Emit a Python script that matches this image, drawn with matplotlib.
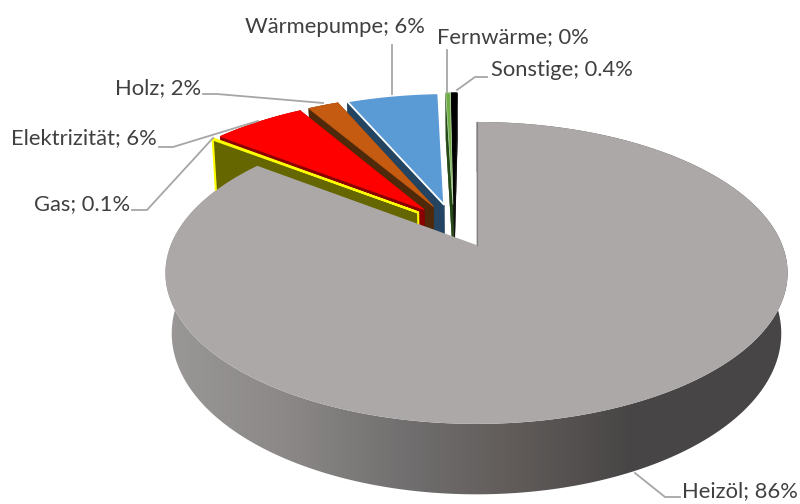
import numpy as np
import matplotlib
matplotlib.use('Agg')
import matplotlib.pyplot as plt
from matplotlib.colors import LinearSegmentedColormap
from matplotlib.patches import Polygon, PathPatch
from matplotlib.path import Path

# Heizung - Anteile, im Uhrzeigersinn ab Norden
names = ['Heizöl', 'Gas', 'Elektrizität', 'Holz', 'Wärmepumpe', 'Fernwärme', 'Sonstige']
values = [86, 0.1, 6, 2, 6, 0.3, 0.4]
shown = ['86%', '0.1%', '6%', '2%', '6%', '0%', '0.4%']

top_colors = ['#aca8a7', '#ffff00', '#ff0000', '#c55a11', '#5b9bd5', '#70ad47', '#000000']
side_colors = ['#6e6c6b', '#666600', '#8a0000', '#4f2a0a', '#234561', '#264a17', '#111111']
edge_colors = ['#aca8a7', '#ffff00', '#ff0000', '#c55a11', '#ffffff', '#c5e0b4', '#000000']
edge_widths = [0, 1.6, 0.5, 0.5, 1.3, 0.5, 0.3]

text_pos = [(682, 491), (34, 204), (11, 138), (115, 88), (245, 27), (437, 37), (491, 70)]
leaders = [
    [(635, 473), (665, 497), (680, 497)],
    [(132, 210), (147, 210), (213, 138)],
    [(159, 147), (173, 147), (258, 121)],
    [(203, 94), (217, 94), (323, 103)],
    [(392, 45), (392, 94)],
    [(447, 50), (447, 92)],
    [(487, 77), (475, 77), (457, 90)],
]

# Perspektive: obere und untere Flaeche der Scheibe
CX = 476.5
TOP = dict(y0=245, a=145.8, b=305.7, p=0.185)
BOT = dict(y0=305, a=156.0, b=300.0, p=0.176)
EXPLODE = 0.155
SHIFT = -0.007


def proj(u, v, k):
    d = 1 - k['p'] * v
    return CX + k['b'] * u / d, k['y0'] + k['a'] * v / d


fr = np.array(values) / sum(values) * 2 * np.pi
starts = np.concatenate([[0], np.cumsum(fr)[:-1]])
mids = starts + fr / 2
# Heizöl liegt im Ursprung, die anderen Stuecke sind relativ dazu verschoben
cu = -EXPLODE * np.sin(mids[0]) + SHIFT
cv = EXPLODE * np.cos(mids[0])


def slice_uv(i):
    au = cu + EXPLODE * np.sin(mids[i])
    av = cv - EXPLODE * np.cos(mids[i])
    if i == 0:
        au, av = 0.0, 0.0
    t = np.linspace(starts[i], starts[i] + fr[i], max(3, int(fr[i] * 80)))
    return au, av, au + np.sin(t), av - np.cos(t)


plt.rcParams['font.family'] = ['Lato', 'DejaVu Sans']
fig = plt.figure(figsize=(8, 5.04), dpi=100)
ax = fig.add_axes([0, 0, 1, 1])

# Seitenflaeche Heizöl mit Verlauf, Clip aus einzelnen Vierecken
au, av, us, vs = slice_uv(0)
tx, ty = proj(us, vs, TOP)
bx, by = proj(us, vs, BOT)
quads = []
for j in range(len(tx) - 1):
    quads.append(Path([(tx[j], ty[j]), (tx[j + 1], ty[j + 1]), (bx[j + 1], by[j + 1]), (bx[j], by[j]), (tx[j], ty[j])]))
cmap = LinearSegmentedColormap.from_list('side', [
    (0, '#9a9897'), (0.2, '#8a8786'), (0.4, '#6f6d6d'), (0.55, '#625d5b'), (0.75, '#474545'), (1, '#474545')])
im = ax.imshow(np.linspace(0, 1, 300)[None, :], extent=(165, 790, 505, 100), cmap=cmap, aspect='auto', zorder=1)
clip = PathPatch(Path.make_compound_path(*quads), transform=ax.transData, fc='none', ec='none')
ax.add_patch(clip)
im.set_clip_path(clip)

# von hinten nach vorne: Sonstige ... Gas, zuletzt Heizöl oben
z = 2
for i in range(len(values) - 1, 0, -1):
    au, av, us, vs = slice_uv(i)
    px = np.r_[au, us]
    pv = np.r_[av, vs]
    tx, ty = proj(px, pv, TOP)
    bx, by = proj(px, pv, BOT)
    n = len(tx)
    ax.add_patch(Polygon(np.column_stack([bx, by]), fc=side_colors[i], ec='none', zorder=z))
    for j in range(n):
        k = (j + 1) % n
        ax.add_patch(Polygon([(tx[j], ty[j]), (tx[k], ty[k]), (bx[k], by[k]), (bx[j], by[j])],
                             fc=side_colors[i], ec=side_colors[i], lw=0.2, zorder=z))
    # senkrechte Kante in Randfarbe
    if i == 1:
        ax.plot([tx[1], bx[1]], [ty[1], by[1]], color=edge_colors[i], lw=1.5, zorder=z)
        ax.plot([tx[0], bx[0]], [ty[0], by[0]], color=edge_colors[i], lw=1.5, zorder=z)
    ax.add_patch(Polygon(np.column_stack([tx, ty]), fc=top_colors[i], ec=edge_colors[i],
                         lw=edge_widths[i], joinstyle='miter', zorder=z + 1))
    z += 2

au, av, us, vs = slice_uv(0)
tx, ty = proj(np.r_[au, us], np.r_[av, vs], TOP)
ax.add_patch(Polygon(np.column_stack([tx, ty]), fc=top_colors[0], ec='none', zorder=z))
ax.plot([tx[1], tx[0]], [ty[1], ty[0]], color='#808080', lw=0.8, zorder=z)

for pts in leaders:
    ax.plot(*zip(*pts), color='#a6a6a6', lw=1.3, zorder=z + 1, solid_joinstyle='miter')

for name, lab, pos in zip(names, shown, text_pos):
    ax.text(pos[0], pos[1], f'{name}; {lab}', fontsize=15.8, color='#404040', ha='left', va='center', zorder=z + 2)

ax.set_xlim(0, 800)
ax.set_ylim(504, 0)
ax.axis('off')
fig.savefig('out.png', dpi=100)
